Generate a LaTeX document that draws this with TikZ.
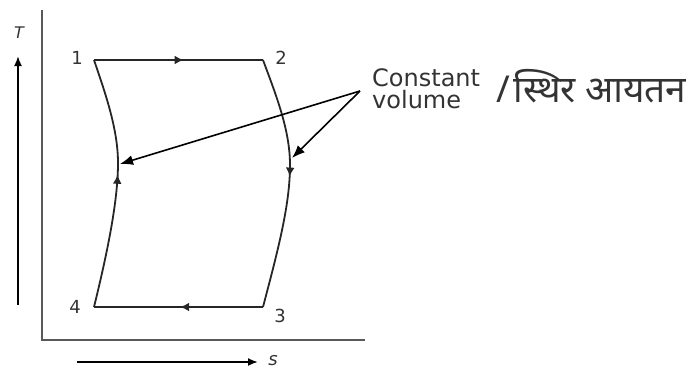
\documentclass[tikz,border=0pt]{standalone}
\usepackage{fontspec}
\setmainfont{DejaVu Sans}
\newfontfamily\hindifont[Script=Devanagari]{Noto Sans}
\usetikzlibrary{arrows.meta,decorations.markings}

\begin{document}
\begin{tikzpicture}[x=1pt, y=-1pt]
  \tikzset{
    axis/.style={draw=black!65, line width=2.6pt},
    dirarrow/.style={-{Latex[length=10pt,width=8pt]}, line width=1.8pt},
    cycle/.style={draw=black!85, line width=1.8pt},
    midmark/.style={postaction={decorate}, decoration={markings,
                    mark=at position #1 with {\arrow{Latex[length=9pt,width=9pt]}}}},
    pointer/.style={-{Latex[length=13pt,width=10pt]}, line width=1.6pt},
    num/.style={font=\fontsize{18}{18}\selectfont, inner sep=1pt, text=black!80},
    note/.style={font=\fontsize{24}{22}\selectfont, inner sep=0pt, text=black!80},
  }
  \useasboundingbox (0,0) rectangle (694,375);
  % Axes
  \coordinate (origin) at (42,340);
  \coordinate (ytop) at (42,10);
  \coordinate (xend) at (365,340);
  \draw[axis] (ytop) -- (origin) -- (xend);
  % Direction arrows with T and s
  \coordinate (tlow) at (18,305);
  \coordinate (thigh) at (18,56);
  \draw[dirarrow] (tlow) -- (thigh);
  \node[num, font=\fontsize{16}{16}\selectfont\itshape] (tlab) at (19,33) {T};
  \coordinate (slow) at (77,362);
  \coordinate (shigh) at (258,362);
  \draw[dirarrow] (slow) -- (shigh);
  \node[num, font=\fontsize{18}{18}\selectfont\itshape] (slab) at (273,361) {s};
  % Cycle corners
  \coordinate (p1) at (94,60);
  \coordinate (p2) at (263,60);
  \coordinate (p3) at (263,307);
  \coordinate (p4) at (94,307);
  \coordinate (m1) at (118,163);
  \coordinate (m2) at (290,165);
  \foreach \pt/\x/\y/\lbl in {p1/77/58/1, p2/281/58/2, p3/280/316/3, p4/75/307/4}{
    \node[num] (n\lbl) at (\x,\y) {\lbl};
  }
  % Cycle: 1-2-3-4
  \draw[cycle, midmark=0.53] (p1) -- (p2);
  \draw[cycle] (p2) .. controls (276,95) and (290,130) .. (m2);
  \draw[cycle, midmark=0.08] (m2) .. controls (290,205) and (278,250) .. (p3);
  \draw[cycle, midmark=0.49] (p3) -- (p4);
  \draw[cycle, midmark=0.92] (p4) .. controls (108,250) and (118,200) .. (m1);
  \draw[cycle] (m1) .. controls (118,130) and (106,95) .. (p1);
  % Constant volume note
  \node[note, align=left, anchor=north west] (cvol) at (372,68) {Constant\\volume};
  \node[note, anchor=base west, font=\hindifont\fontsize{37}{37}\selectfont] (hin)
    at (496,102) {/\hspace{4pt}स्थिर आयतन};
  \coordinate (cv) at (360,91);
  \coordinate (tipL) at (120,164);
  \coordinate (tipR) at (292,158);
  \draw[pointer] (cv) -- (tipL);
  \draw[pointer] (cv) -- (tipR);
\end{tikzpicture}
\end{document}
